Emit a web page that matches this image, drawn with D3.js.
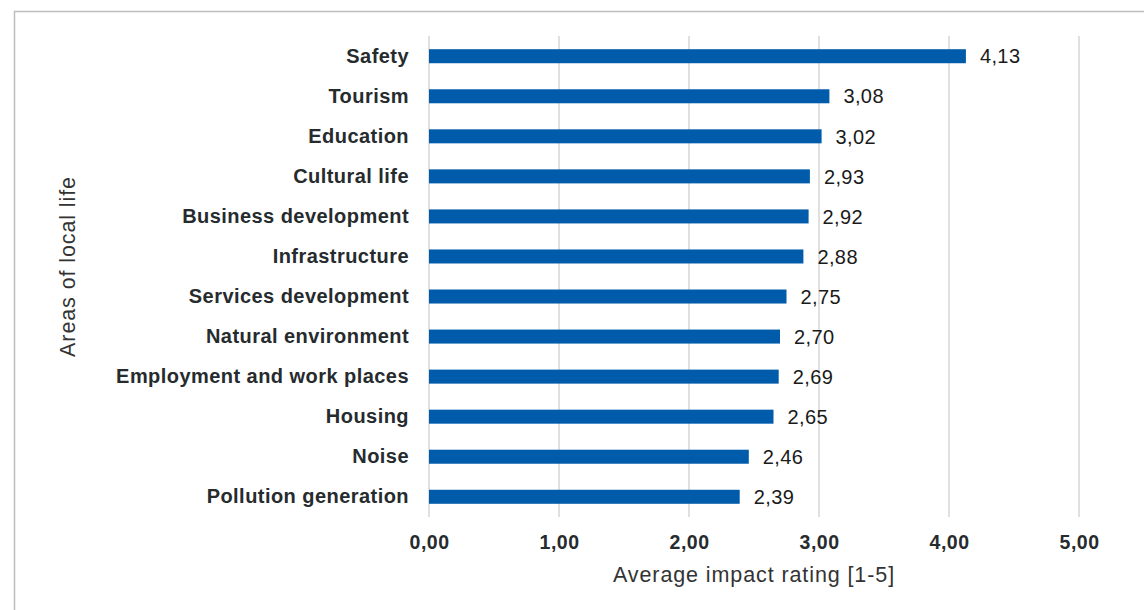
<!DOCTYPE html>
<html>
<head>
<meta charset="utf-8">
<script src="https://cdn.jsdelivr.net/npm/d3@7/dist/d3.min.js"></script>
<style>
  html, body { margin: 0; padding: 0; background: #fff; }
  svg { display: block; font-family: "Liberation Sans", Arial, sans-serif; }
</style>
</head>
<body>
<svg id="chart" width="1144" height="610"></svg>
<script>
// Areas of local life and their average impact rating
const categories = [
  "Safety", "Tourism", "Education", "Cultural life", "Business development",
  "Infrastructure", "Services development", "Natural environment",
  "Employment and work places", "Housing", "Noise", "Pollution generation"
];
const ratings = [4.13, 3.08, 3.02, 2.93, 2.92, 2.88, 2.75, 2.70, 2.69, 2.65, 2.46, 2.39];
const xTicks = [0, 1, 2, 3, 4, 5];
const xTitle = "Average impact rating [1-5]";
const yTitle = "Areas of local life";

const svg = d3.select("#chart");
const fmt = v => d3.format(".2f")(v).replace(".", ",");

const plot = { left: 429, right: 1079, top: 36, bottom: 517 };

const x = d3.scaleLinear().domain([0, 5]).range([plot.left, plot.right]);
const y = d3.scaleBand().domain(categories).range([plot.top, plot.bottom]).paddingInner(0.65).paddingOuter(0.33);

// outer frame
svg.append("rect")
  .attr("x", 14.5).attr("y", 11.5)
  .attr("width", 1200).attr("height", 700)
  .attr("fill", "none").attr("stroke", "#bdbdbd").attr("stroke-width", 1.5);

// vertical gridlines
svg.append("g").selectAll("line").data(xTicks).join("line")
  .attr("x1", d => x(d)).attr("x2", d => x(d))
  .attr("y1", plot.top).attr("y2", plot.bottom)
  .attr("stroke", "#d6d6d6").attr("stroke-width", 1.5);

// bars
svg.append("g").selectAll("rect").data(ratings).join("rect")
  .attr("x", x(0))
  .attr("y", (d, i) => y(categories[i]))
  .attr("width", d => x(d) - x(0))
  .attr("height", y.bandwidth())
  .attr("fill", "#005bab");

// value labels
svg.append("g").selectAll("text").data(ratings).join("text")
  .attr("x", d => x(d) + 14)
  .attr("y", (d, i) => y(categories[i]) + y.bandwidth() / 2)
  .attr("dy", "0.36em")
  .attr("font-size", 20)
  .attr("letter-spacing", 0.4)
  .attr("fill", "#1a1a1a")
  .text(d => fmt(d));

// category axis
const yAxis = d3.axisLeft(y).tickSize(0).tickPadding(20);
const gy = svg.append("g").attr("transform", `translate(${plot.left},0)`).call(yAxis);
gy.select(".domain").remove();
gy.selectAll("text")
  .attr("font-size", 20)
  .attr("letter-spacing", 0.45)
  .attr("font-weight", "bold")
  .attr("fill", "#262b2e")
  .attr("font-family", "Liberation Sans, Arial, sans-serif");

// value axis
const xAxis = d3.axisBottom(x).tickValues(xTicks).tickSize(0).tickPadding(18).tickFormat(fmt);
const gx = svg.append("g").attr("transform", `translate(0,${plot.bottom})`).call(xAxis);
gx.select(".domain").remove();
gx.selectAll("text")
  .attr("font-size", 19.5)
  .attr("letter-spacing", 0.5)
  .attr("font-weight", "bold")
  .attr("fill", "#262b2e")
  .attr("font-family", "Liberation Sans, Arial, sans-serif");

// axis titles
svg.append("text")
  .attr("x", (plot.left + plot.right) / 2)
  .attr("y", 582)
  .attr("text-anchor", "middle")
  .attr("font-size", 21.5)
  .attr("letter-spacing", 0.9)
  .attr("fill", "#333")
  .text(xTitle);

svg.append("text")
  .attr("transform", `translate(75,${(plot.top + plot.bottom) / 2 - 10}) rotate(-90)`)
  .attr("text-anchor", "middle")
  .attr("font-size", 21.5)
  .attr("letter-spacing", 0.9)
  .attr("fill", "#333")
  .text(yTitle);
</script>
</body>
</html>
